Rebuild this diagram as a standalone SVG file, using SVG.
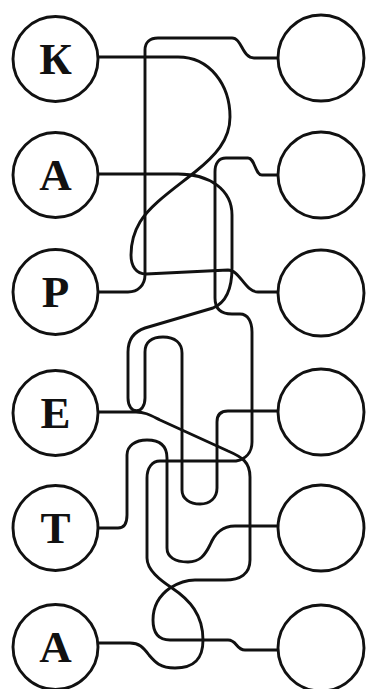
<svg xmlns="http://www.w3.org/2000/svg" width="366" height="689" viewBox="0 0 366 689">
<style>
.c{fill:#fff;stroke:#111;stroke-width:2.9}
.l{fill:none;stroke:#111;stroke-width:2.9;stroke-linecap:round;stroke-linejoin:round}
.t{font-family:"Liberation Serif","DejaVu Serif",serif;font-weight:bold;font-size:45px;fill:#111;text-anchor:middle}
</style>
<rect width="366" height="689" fill="#fff"/>
<g id="connectors">
<path class="l" d="M98,57 H178 C210,57 230,85 230,117 C230,140 215,156 195,172 C175,188 150,205 140,222 C134,232 131,244 131,255 C131,266 136,274 146,274 L228,270 C240,270 245,292 258,292 H279"/>
<path class="l" d="M98,292 H128 C138,292 145,285 145,275 V50 C145,42 150,38 158,38 H232 C242,38 242,58 254,58 H279"/>
<path class="l" d="M98,174 H178 C210,174 232,190 232,215 V268 C232,290 225,303 213,308 L145,328 C133,332 128,340 128,352 V398 C128,415 145,415 145,398 V352 C145,342 152,337 163,337 C175,337 182,343 182,353 V490 C182,499 190,504 200,504 C210,504 217,498 217,488 V422 C217,415 220,411 228,411 H279"/>
<path class="l" d="M279,175 H262 C255,175 255,158 248,158 H226 C219,158 215,163 215,172 V298 C215,310 222,314 232,314 H240 C248,314 252,322 252,332 V442 C252,452 246,459 236,461 H160 C152,461 147,468 147,478 V558 C147,570 160,580 172,588 C190,600 203,615 203,640 C203,658 195,668 175,668 C160,668 155,662 149,655 C143,647 139,643 130,643 H98"/>
<path class="l" d="M98,412 H136 C145,412 150,415 160,420 L228,451 C242,457 250,462 250,477 V560 C250,574 240,580 225,580 H195 C185,580 178,583 170,588 C160,595 153,605 153,620 C153,632 158,640 170,640 H228 C237,640 236,650 245,650 H279"/>
<path class="l" d="M98,528 H118 C124,528 127,523 127,515 V455 C127,446 135,440 147,440 C160,440 167,446 167,458 V548 C167,557 175,562 188,562 C200,562 205,555 210,545 C215,533 222,526 235,526 H279"/>
</g>
<g id="L1"><circle class="c" cx="55.5" cy="59" r="42.5"/><text class="t" x="55.5" y="74">К</text></g>
<g id="L2"><circle class="c" cx="55.5" cy="175" r="42.5"/><text class="t" x="55.5" y="190">А</text></g>
<g id="L3"><circle class="c" cx="55.5" cy="292" r="42.5"/><text class="t" x="55.5" y="307">Р</text></g>
<g id="L4"><circle class="c" cx="55.5" cy="413" r="42.5"/><text class="t" x="55.5" y="428">Е</text></g>
<g id="L5"><circle class="c" cx="55.5" cy="528" r="42.5"/><text class="t" x="55.5" y="543">Т</text></g>
<g id="L6"><circle class="c" cx="55.5" cy="647" r="42.5"/><text class="t" x="55.5" y="662">А</text></g>
<g id="R1"><circle class="c" cx="321" cy="58" r="43"/></g>
<g id="R2"><circle class="c" cx="321" cy="175" r="43"/></g>
<g id="R3"><circle class="c" cx="321" cy="293" r="43"/></g>
<g id="R4"><circle class="c" cx="321" cy="412" r="43"/></g>
<g id="R5"><circle class="c" cx="321" cy="528" r="43"/></g>
<g id="R6"><circle class="c" cx="321" cy="648" r="43"/></g>
</svg>
